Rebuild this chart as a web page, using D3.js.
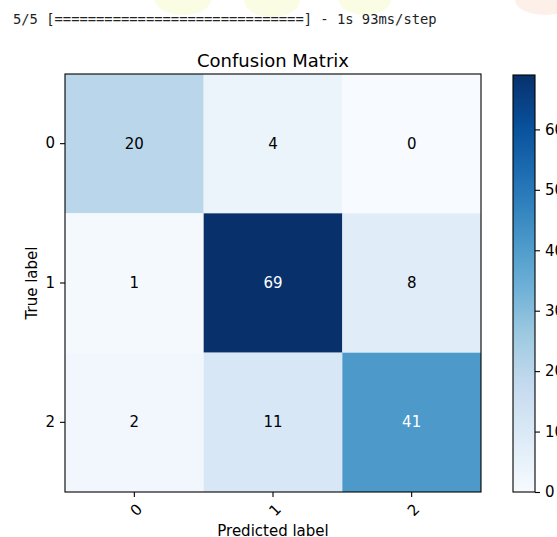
<!DOCTYPE html>
<html>
<head>
<meta charset="utf-8">
<script src="https://cdn.jsdelivr.net/npm/d3@7"></script>
<style>
  html, body { margin: 0; padding: 0; background: #fff; }
  svg { display: block; }
  text { font-family: "DejaVu Sans", sans-serif; fill: #000; }
</style>
</head>
<body>
<svg id="chart" width="557" height="537"></svg>
<script>
// Confusion matrix of the 3-class classifier
const classes = ["0", "1", "2"];
const trueLabels = ["0", "1", "2"];
const predLabels = ["0", "1", "2"];
const row0 = [20, 4, 0];
const row1 = [1, 69, 8];
const row2 = [2, 11, 41];
const matrix = [row0, row1, row2];
const colorbarTicks = [0, 10, 20, 30, 40, 50, 60];
const progressLine = "5/5 [==============================] - 1s 93ms/step";

const svg = d3.select("#chart");

// faint logo blobs behind the console output
const blobs = svg.append("g");
[[183, 0, 28, 15, "#fafce4"], [272, 0, 28, 17, "#fafce4"], [365, 0, 26, 15, "#fafce4"], [545, 0, 30, 15, "#fdf0e8"]]
  .forEach(([cx, cy, rx, ry, c]) => blobs.append("ellipse")
    .attr("cx", cx).attr("cy", cy).attr("rx", rx).attr("ry", ry).attr("fill", c));

// console progress line
svg.append("text")
  .attr("x", 13).attr("y", 24)
  .style("font-family", "'DejaVu Sans Mono', 'Liberation Mono', monospace")
  .style("font-size", "13.8px")
  .style("fill", "#222")
  .text(progressLine);

const plot = { left: 65, top: 74, right: 481, bottom: 492 };

const x = d3.scaleBand().domain(predLabels).range([plot.left, plot.right]);
const y = d3.scaleBand().domain(trueLabels).range([plot.top, plot.bottom]);

const vmax = d3.max(matrix.flat());
const vmin = d3.min(matrix.flat());
const blues = ["#f7fbff", "#deebf7", "#c6dbef", "#9ecae1", "#6baed6", "#4292c6", "#2171b5", "#08519c", "#08306b"];
const color = d3.scaleLinear()
  .domain(blues.map((_, i) => vmin + (vmax - vmin) * i / (blues.length - 1)))
  .range(blues)
  .interpolate(d3.interpolateRgb);

const cells = [];
matrix.forEach((row, i) => row.forEach((v, j) => cells.push({ r: trueLabels[i], c: predLabels[j], v })));

svg.append("g").selectAll("rect").data(cells).join("rect")
  .attr("x", d => x(d.c))
  .attr("y", d => y(d.r))
  .attr("width", x.bandwidth())
  .attr("height", y.bandwidth())
  .attr("fill", d => color(d.v));

const fs = 15;
const thresh = vmax / 2;
svg.append("g").selectAll("text").data(cells).join("text")
  .attr("x", d => x(d.c) + x.bandwidth() / 2)
  .attr("y", d => y(d.r) + y.bandwidth() / 2)
  .attr("text-anchor", "middle")
  .attr("dominant-baseline", "central")
  .style("font-size", fs + "px")
  .style("fill", d => d.v > thresh ? "#fff" : "#000")
  .text(d => d.v);

// frame
svg.append("rect")
  .attr("x", plot.left).attr("y", plot.top)
  .attr("width", plot.right - plot.left).attr("height", plot.bottom - plot.top)
  .attr("fill", "none").attr("stroke", "#000").attr("stroke-width", 1.1);

// y axis
const yAxis = svg.append("g").attr("transform", `translate(${plot.left},0)`)
  .call(d3.axisLeft(y).tickSize(5).tickPadding(5).tickFormat((d, i) => classes[i]));
yAxis.select(".domain").remove();
yAxis.selectAll("line").attr("stroke", "#000").attr("stroke-width", 1.1);
yAxis.selectAll("text").style("font-size", fs + "px").attr("fill", "#000")
  .style("font-family", "'DejaVu Sans', sans-serif");

// x axis with tilted labels
const xAxis = svg.append("g").attr("transform", `translate(0,${plot.bottom})`)
  .call(d3.axisBottom(x).tickSize(5).tickFormat((d, i) => classes[i]));
xAxis.select(".domain").remove();
xAxis.selectAll("line").attr("stroke", "#000").attr("stroke-width", 1.1);
xAxis.selectAll("text")
  .style("font-size", fs + "px").attr("fill", "#000")
  .style("font-family", "'DejaVu Sans', sans-serif")
  .attr("y", 0).attr("dy", null)
  .attr("text-anchor", "middle")
  .attr("dominant-baseline", "central")
  .attr("transform", "translate(2,18) rotate(-45)");

// titles
svg.append("text")
  .attr("x", (plot.left + plot.right) / 2).attr("y", 67)
  .attr("text-anchor", "middle")
  .style("font-size", "18px")
  .text("Confusion Matrix");

svg.append("text")
  .attr("transform", `translate(37,${(plot.top + plot.bottom) / 2}) rotate(-90)`)
  .attr("text-anchor", "middle")
  .style("font-size", fs + "px")
  .text("True label");

svg.append("text")
  .attr("x", (plot.left + plot.right) / 2).attr("y", 536)
  .attr("text-anchor", "middle")
  .style("font-size", fs + "px")
  .text("Predicted label");

// colorbar
const cb = { left: 513, right: 535, top: 75, bottom: 492 };
const cbScale = d3.scaleLinear().domain([vmin, vmax]).range([cb.bottom, cb.top]);

const defs = svg.append("defs");
const grad = defs.append("linearGradient").attr("id", "cbgrad")
  .attr("x1", 0).attr("y1", 1).attr("x2", 0).attr("y2", 0);
d3.range(0, 1.0001, 0.02).forEach(t => {
  grad.append("stop").attr("offset", t).attr("stop-color", color(vmin + t * (vmax - vmin)));
});
svg.append("rect")
  .attr("x", cb.left).attr("y", cb.top)
  .attr("width", cb.right - cb.left).attr("height", cb.bottom - cb.top)
  .attr("fill", "url(#cbgrad)")
  .attr("stroke", "#000").attr("stroke-width", 1.1);

const cbAxis = svg.append("g").attr("transform", `translate(${cb.right},0)`)
  .call(d3.axisRight(cbScale).tickValues(colorbarTicks).tickSize(5).tickPadding(5));
cbAxis.select(".domain").remove();
cbAxis.selectAll("line").attr("stroke", "#000").attr("stroke-width", 1.1);
cbAxis.selectAll("text").style("font-size", fs + "px").attr("fill", "#000")
  .style("font-family", "'DejaVu Sans', sans-serif");
</script>
</body>
</html>
